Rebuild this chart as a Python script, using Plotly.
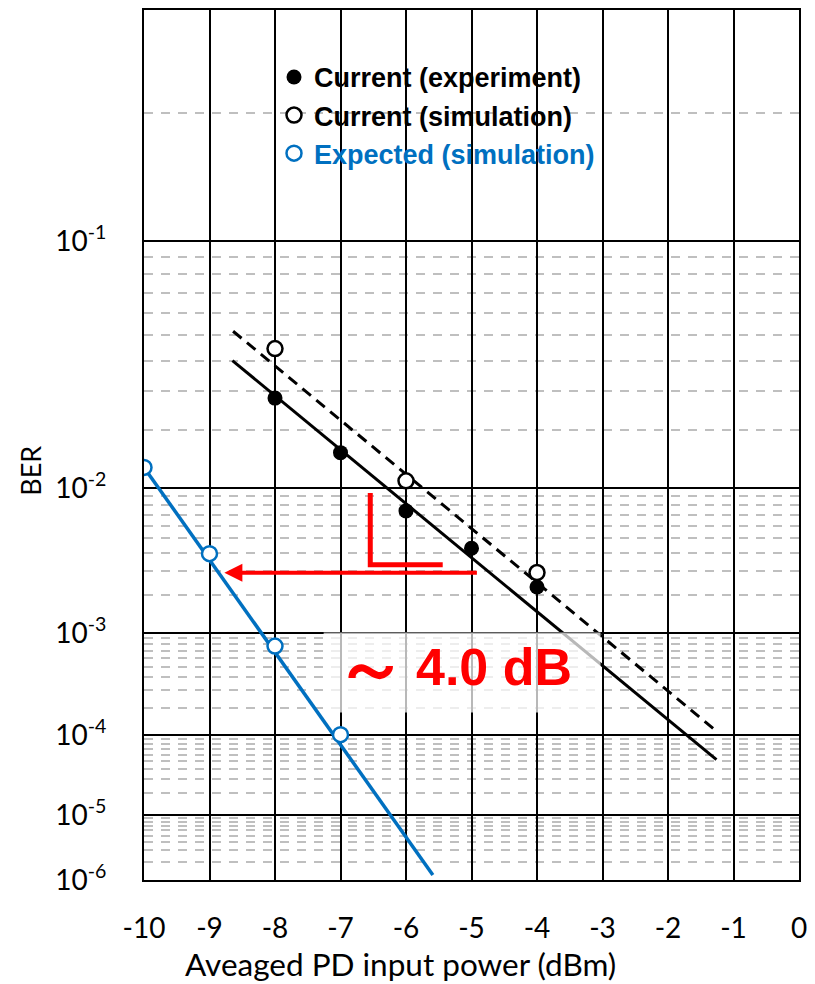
import numpy as np
import plotly.graph_objects as go

# ---------------- data ----------------
power_exp = [-8, -7, -6, -5, -4]
ber_exp = [2.8e-2, 1.55e-2, 7.4e-3, 4.3e-3, 2.3e-3]

power_sim = [-8, -6, -4]
ber_sim = [4.45e-2, 1.1e-2, 2.93e-3]

power_expected = [-10, -9, -8, -7]
ber_expected = [1.3e-2, 3.96e-3, 7.7e-4, 1.02e-4]

# fitted lines (end points)
fit_exp_x = [-8.65, -1.26]
fit_exp_ber = [4.0e-2, 5.25e-5]
fit_sim_x = [-8.64, -1.30]
fit_sim_ber = [5.16e-2, 1.18e-4]
fit_expected_x = [-10.0, -5.59]
fit_expected_ber = [1.3e-2, 1.21e-6]

x_tickvals = [-10, -9, -8, -7, -6, -5, -4, -3, -2, -1, 0]
x_ticktext = ["-10", "-9", "-8", "-7", "-6", "-5", "-4", "-3", "-2", "-1", "0"]
y_decades = [1e-1, 1e-2, 1e-3, 1e-4, 1e-5, 1e-6]
y_ticktext = ["10<sup>-1</sup>", "10<sup>-2</sup>", "10<sup>-3</sup>",
              "10<sup>-4</sup>", "10<sup>-5</sup>", "10<sup>-6</sup>"]
y_minor = [0.2] + [k * 10.0 ** (-d) for d in range(2, 7) for k in range(9, 1, -1)]
ber_top, ber_bottom = 0.3, 1e-6


def tr(b):
    """BER axis: -log10(-log10(BER)) scale."""
    return -np.log10(-np.log10(np.asarray(b, dtype=float)))


# ---------------- geometry helpers ----------------
W, H = 815, 984
ML, MR, MT, MB = 144, 11, 8, 104
PW, PH = W - ML - MR, H - MT - MB


def px(x):
    """page x pixel -> paper"""
    return (x - ML) / PW


def py(y):
    """page y pixel -> paper"""
    return (H - MB - y) / PH


BLACK = "#000000"
BLUE = "#0070C0"
RED = "#FF0000"
AXFONT = "Lato"
LGFONT = "Liberation Sans"

fig = go.Figure()

# fitted lines
fig.add_trace(go.Scatter(x=fit_expected_x, y=tr(fit_expected_ber), mode="lines",
                         line=dict(color=BLUE, width=3.5), showlegend=False, hoverinfo="skip"))
fig.add_trace(go.Scatter(x=fit_exp_x, y=tr(fit_exp_ber), mode="lines",
                         line=dict(color=BLACK, width=3), showlegend=False, hoverinfo="skip"))
fig.add_trace(go.Scatter(x=fit_sim_x, y=tr(fit_sim_ber), mode="lines",
                         line=dict(color=BLACK, width=3, dash="11px,7px"),
                         showlegend=False, hoverinfo="skip"))

# markers
fig.add_trace(go.Scatter(x=power_exp, y=tr(ber_exp), mode="markers",
                         name="Current (experiment)", legendgroup="a",
                         marker=dict(symbol="circle", size=15, color=BLACK,
                                     line=dict(color=BLACK, width=0))))
fig.add_trace(go.Scatter(x=power_sim, y=tr(ber_sim), mode="markers",
                         name="Current (simulation)", legendgroup="b",
                         marker=dict(symbol="circle", size=15, color="white",
                                     line=dict(color=BLACK, width=2.5))))
fig.add_trace(go.Scatter(x=power_expected, y=tr(ber_expected), mode="markers",
                         name="<span style='color:%s'>Expected (simulation)</span>" % BLUE,
                         legendgroup="c",
                         marker=dict(symbol="circle", size=15, color="white",
                                     line=dict(color=BLUE, width=2.5))))

shapes = [
    # white area behind the legend (above grid, below traces)
    dict(type="rect", xref="paper", yref="paper", x0=px(260), x1=px(658),
         y0=py(180), y1=py(50), fillcolor="white", line=dict(width=0), layer="between"),
    # translucent box behind the dB label
    dict(type="rect", xref="paper", yref="paper", x0=px(325), x1=px(604),
         y0=py(712), y1=py(632), fillcolor="white", opacity=0.72,
         line=dict(width=0), layer="above"),
    # red "L" mark
    dict(type="path", xref="paper", yref="paper",
         path="M %f,%f L %f,%f L %f,%f" % (px(372), py(492), px(372), py(564), px(445), py(564)),
         line=dict(color=RED, width=5), layer="above"),
]

annotations = [
    dict(xref="paper", yref="paper", x=px(225), y=py(572), ax=254, ay=0,
         axref="pixel", ayref="pixel", text="", showarrow=True,
         arrowhead=2, arrowsize=0.9, arrowwidth=4, arrowcolor=RED, standoff=0),
    dict(xref="paper", yref="paper", x=px(373), y=py(667), text="<b>～</b>",
         showarrow=False, xanchor="center", yanchor="middle",
         font=dict(family=LGFONT, size=72, color=RED)),
    dict(xref="paper", yref="paper", x=px(416), y=py(667), text="<b>4.0 dB</b>",
         showarrow=False, xanchor="left", yanchor="middle",
         font=dict(family=LGFONT, size=52, color=RED)),
    dict(xref="paper", yref="paper", x=px(30), y=py(470), text="BER", textangle=-90,
         showarrow=False, xanchor="center", yanchor="middle",
         font=dict(family=AXFONT, size=27, color=BLACK)),
    dict(xref="paper", yref="paper", x=px(402), y=py(964),
         text="Aveaged PD input power (dBm)",
         showarrow=False, xanchor="center", yanchor="middle",
         font=dict(family=AXFONT, size=31.5, color=BLACK)),
]

fig.update_layout(
    width=W, height=H,
    margin=dict(l=ML, r=MR, t=MT, b=MB, pad=0),
    paper_bgcolor="white", plot_bgcolor="white",
    shapes=shapes, annotations=annotations,
    showlegend=True,
    legend=dict(x=px(275), y=py(51), xanchor="left", yanchor="top",
                bgcolor="rgba(0,0,0,0)", borderwidth=0,
                font=dict(family=LGFONT, size=27, color=BLACK, weight="bold"),
                traceorder="grouped", tracegroupgap=0, itemsizing="trace"),
    xaxis=dict(range=[-10, 0], tickmode="array", tickvals=x_tickvals, ticktext=x_ticktext,
               showgrid=True, gridcolor=BLACK, gridwidth=2, zeroline=False,
               showline=True, mirror=True, linecolor=BLACK, linewidth=2,
               ticks="", ticklabelstandoff=22,
               tickfont=dict(family=AXFONT, size=28, color=BLACK)),
    yaxis=dict(range=[float(tr(ber_bottom)), float(tr(ber_top))],
               tickmode="array", tickvals=list(tr(y_decades)), ticktext=y_ticktext,
               showgrid=True, gridcolor=BLACK, gridwidth=2, zeroline=False,
               showline=True, mirror=True, linecolor=BLACK, linewidth=2,
               ticks="", ticklabelstandoff=30,
               tickfont=dict(family=AXFONT, size=28, color=BLACK),
               minor=dict(tickmode="array", tickvals=list(tr(y_minor)), showgrid=True,
                          gridcolor="#BFBFBF", gridwidth=2, griddash="9px,8px", ticks="")),
)

fig.write_html("out.html", config={"displayModeBar": False},
               post_script="document.body.style.margin='0';document.body.style.overflow='hidden';")
